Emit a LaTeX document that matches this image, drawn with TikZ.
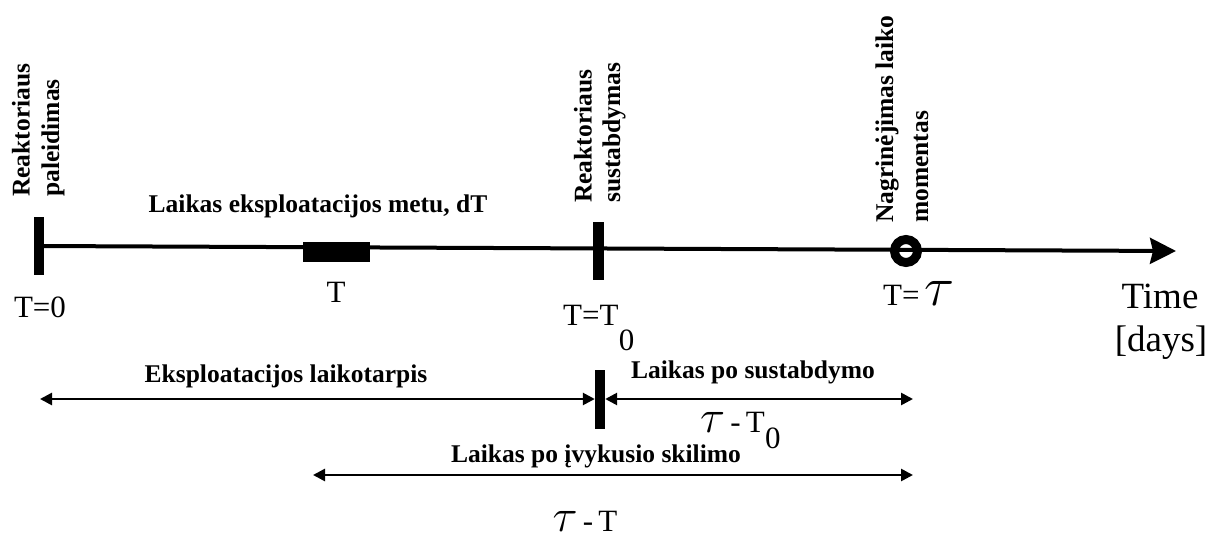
\RequirePackage{fix-cm}
\documentclass[tikz,border=0pt]{standalone}
\usepackage{fontspec}
\setmainfont{Liberation Serif}
\usetikzlibrary{arrows.meta}
\newcommand{\bigtau}[1]{\scalebox{#1}{$\tau$}}
\begin{document}
\begin{tikzpicture}[x=1pt,y=-1pt,
  tickbar/.style={fill=black, inner sep=0pt, minimum width=10pt},
  axisline/.style={line width=4pt, -{Stealth[length=26pt,width=26pt,inset=3pt]}},
  span/.style={line width=2.6pt, {Triangle[length=12pt,width=12pt]}-{Triangle[length=12pt,width=12pt]}},
  boldlab/.style={font=\fontsize{25.5}{30}\selectfont\bfseries, inner sep=0pt},
  vlab/.style={boldlab, rotate=90, anchor=west},
  plain/.style={font=\fontsize{31}{36}\selectfont, inner sep=0pt},
]
\useasboundingbox (0,0) rectangle (1211,551);

% time axis marks
\node[tickbar, minimum height=58pt] (start) at (39,246) {};
\node[fill=black, inner sep=0pt, minimum width=67pt, minimum height=20pt] (fis) at (336.5,252) {};
\node[tickbar, minimum width=11pt, minimum height=58pt] (stop) at (598,251) {};
\node[circle, draw, fill=white, line width=9pt, minimum size=23pt, inner sep=0pt] (now) at (906,251) {};
\coordinate (axend) at (1176,251);
\draw[axisline] (start.center) -- (axend);

% interval arrows
\node[tickbar, minimum height=59pt] (split) at (600,399) {};
\coordinate (r1l) at (40,399);
\coordinate (r1r) at (913,399);
\draw[span] (r1l) -- (split.west);
\draw[span] (split.east) -- (r1r);
\coordinate (r2l) at (313,475);
\coordinate (r2r) at (913,475);
\draw[span] (r2l) -- (r2r);

% vertical event labels
\node[vlab] (ev1a) at (21,197) {Reaktoriaus};
\node[vlab] (ev1b) at (53,197) {paleidimas};
\node[vlab] (ev2a) at (583,203) {Reaktoriaus};
\node[vlab] (ev2b) at (614,203) {sustabdymas};
\node[vlab] (ev3a) at (887,223) {Nagrinėjimas laiko};
\node[vlab] (ev3b) at (921,223) {momentas};

% horizontal captions
\node[boldlab, anchor=base] (cap1) at (318,212) {Laikas eksploatacijos metu, dT};
\node[boldlab, anchor=base] (cap2) at (286,382) {Eksploatacijos laikotarpis};
\node[boldlab, anchor=base] (cap3) at (753,378) {Laikas po sustabdymo};
\node[boldlab, anchor=base] (cap4) at (596,462) {Laikas po įvykusio skilimo};

% axis values
\node[plain, anchor=base] (v0) at (40,317) {T=0};
\node[plain, anchor=base] (vT) at (336,302) {T};
\node[plain, anchor=base west] (vT0) at (563,325) {T=T};
\node[plain, anchor=base west] (vT0s) at (vT0.base east) [yshift=-25pt] {0};
\node[plain, anchor=base west] (vtau) at (883,305) {T=\,\bigtau{1.8}};
\node[plain, anchor=base] (unit1) at (1160,308) {\fontsize{37}{42}\selectfont Time};
\node[plain, anchor=base] (unit2) at (1161,351) {\fontsize{37}{42}\selectfont [days]};

% interval lengths
\node[plain, anchor=base west] (d1) at (700,432) {\bigtau{1.5}\,-\,T};
\node[plain, anchor=base west] (d1s) at (d1.base east) [yshift=-16pt] {0};
\node[plain, anchor=base] (d2) at (585,531) {\bigtau{1.5}\,-\,T};
\end{tikzpicture}
\end{document}
